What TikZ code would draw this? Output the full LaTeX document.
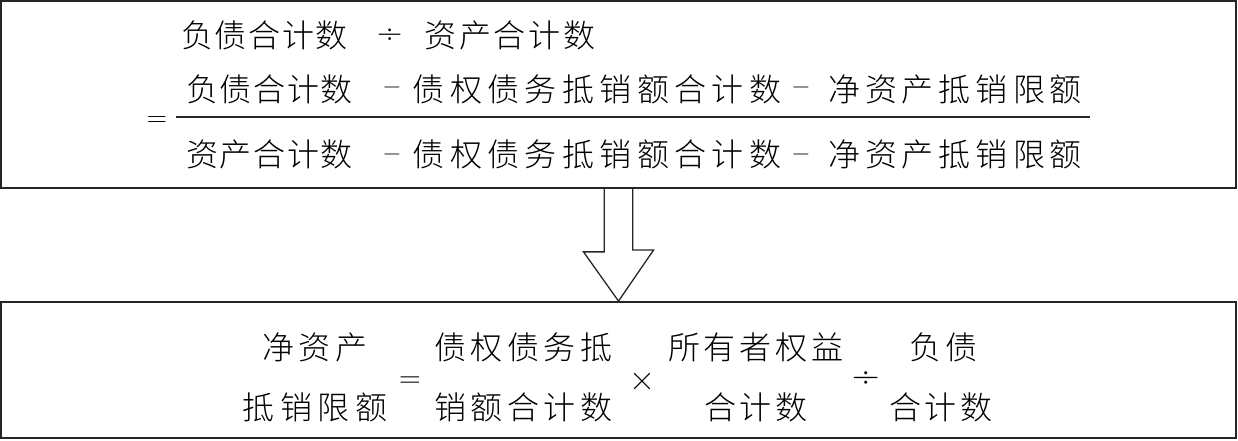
\documentclass[tikz,border=0pt]{standalone}
\usepackage{fontspec}
\newfontfamily\cjk{Noto Sans CJK SC Light}
\usetikzlibrary{calc}
\newlength\chpitch
\newcommand\spc[2]{\setlength\chpitch{#1}\spcaux#2\relax}
\newcommand\spcaux[1]{\ifx\relax#1\else\makebox[\chpitch][c]{#1}\expandafter\spcaux\fi}
\tikzset{
  boxframe/.style={draw=black!85, line width=1.8pt, inner sep=0pt},
  cjktxt/.style={inner sep=0pt, font=\cjk\fontsize{32}{38}\selectfont},
  optxt/.style={inner sep=0pt, anchor=base},
  arrowline/.style={draw=black!85, line width=1.3pt, line join=miter},
  barline/.style={draw=black!85, line width=1.4pt}
}
\begin{document}
\begin{tikzpicture}[x=1pt,y=1pt]
\useasboundingbox (0,0) rectangle (1238,441);
% boxes
\node[boxframe, minimum width=1235pt, minimum height=187pt] (top) at (618.5,346.5) {};
\node[boxframe, minimum width=1235pt, minimum height=136pt] (bot) at (618.5,71) {};
% arrow
\draw[arrowline] ($(top.south)+(-14.2,0)$) -- ++(0,-63) -- ++(-20.8,0) -- (bot.north) -- ++(35,51) -- ++(-20.8,0) -- ($(top.south)+(14.2,0)$);
% line 1
\node[cjktxt] (l1a) at (264.5,406) {\spc{33.75pt}{负债合计数}};
\node[optxt, font=\fontsize{35}{40}\selectfont] (l1op) at (390,397) {÷};
\node[cjktxt] (l1b) at (510,406) {\spc{34.6pt}{资产合计数}};
% fraction
\node[optxt, font=\fontsize{28}{32}\selectfont] (eq1) at (157,314) {=};
\coordinate (fb1) at (176,324);
\coordinate (fb2) at (1090,324);
\draw[barline] (fb1) -- (fb2);
\node[cjktxt] (na) at (269.5,352) {\spc{33.7pt}{负债合计数}};
\node[optxt, font=\fontsize{24}{28}\selectfont] (nop1) at (392,347) {−};
\node[cjktxt] (nb) at (597,352) {\spc{37.4pt}{债权债务抵销额合计数}};
\node[optxt, font=\fontsize{24}{28}\selectfont] (nop2) at (801,347) {−};
\node[cjktxt] (nc) at (955,352) {\spc{37pt}{净资产抵销限额}};
\node[cjktxt] (da) at (269.5,287) {\spc{33.7pt}{资产合计数}};
\node[optxt, font=\fontsize{24}{28}\selectfont] (dop1) at (392,280) {−};
\node[cjktxt] (db) at (597,287) {\spc{37.4pt}{债权债务抵销额合计数}};
\node[optxt, font=\fontsize{24}{28}\selectfont] (dop2) at (801,280) {−};
\node[cjktxt] (dc) at (955,287) {\spc{37pt}{净资产抵销限额}};
% bottom formula
\node[cjktxt] (b1t) at (315,94) {\spc{37pt}{净资产}};
\node[cjktxt] (b1b) at (315,34) {\spc{37.5pt}{抵销限额}};
\node[optxt, font=\fontsize{30}{34}\selectfont] (beq) at (410,53.5) {=};
\node[cjktxt] (b2t) at (523.5,94) {\spc{36.5pt}{债权债务抵}};
\node[cjktxt] (b2b) at (523.5,34) {\spc{36.5pt}{销额合计数}};
\node[optxt, font=\fontsize{36}{40}\selectfont] (bx) at (642,50) {×};
\node[cjktxt] (b3t) at (756,94) {\spc{36pt}{所有者权益}};
\node[cjktxt] (b3b) at (756,34) {\spc{36pt}{合计数}};
\node[optxt, font=\fontsize{38}{42}\selectfont] (bdiv) at (866,53.5) {÷};
\node[cjktxt] (b4t) at (943.5,94) {\spc{36pt}{负债}};
\node[cjktxt] (b4b) at (941,34) {\spc{36pt}{合计数}};
\end{tikzpicture}
\end{document}
